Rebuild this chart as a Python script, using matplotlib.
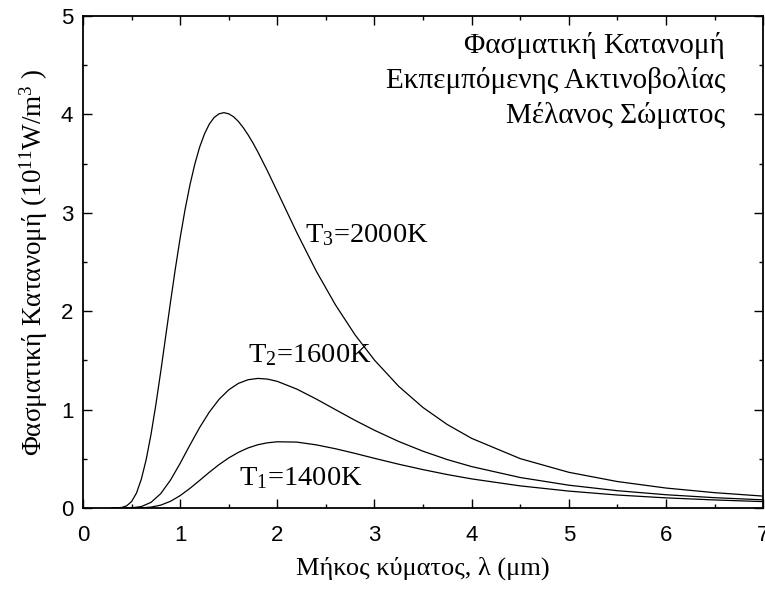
import matplotlib
matplotlib.use("Agg")
import matplotlib.pyplot as plt
from matplotlib.ticker import MultipleLocator

# wavelength samples (um) for the 2000 K curve (denser near the peak)
wavelength_t3 = [0.3, 0.4, 0.45, 0.5, 0.55, 0.6, 0.65, 0.7, 0.75, 0.8, 0.85, 0.9, 0.95,
                 1.0, 1.05, 1.1, 1.15, 1.2, 1.25, 1.3, 1.35, 1.4, 1.45, 1.5, 1.55,
                 1.6, 1.65, 1.7, 1.75, 1.8, 1.9, 2.0, 2.2, 2.4, 2.6, 2.8, 3.0, 3.25,
                 3.5, 3.75, 4.0, 4.5, 5.0, 5.5, 6.0, 6.5, 7.0]
t3_2000K = [0.0001, 0.0055, 0.0226, 0.066, 0.151, 0.292, 0.491, 0.748, 1.051, 1.386,
            1.737, 2.089, 2.429, 2.745, 3.031, 3.280, 3.492, 3.666, 3.801, 3.902,
            3.969, 4.006, 4.018, 4.006, 3.976, 3.928, 3.865, 3.791, 3.709, 3.618,
            3.423, 3.216, 2.800, 2.409, 2.062, 1.760, 1.503, 1.236, 1.021, 0.848,
            0.708, 0.502, 0.363, 0.269, 0.203, 0.156, 0.121]

# wavelength samples (um) for the 1600 K and 1400 K curves
wavelength = [0.3, 0.4, 0.5, 0.6, 0.7, 0.8, 0.9, 1.0, 1.1, 1.2, 1.3, 1.4, 1.5, 1.6,
              1.7, 1.8, 1.9, 2.0, 2.2, 2.4, 2.6, 2.8, 3.0, 3.25, 3.5, 3.75, 4.0,
              4.5, 5.0, 5.5, 6.0, 6.5, 7.0]
t2_1600K = [0.0, 0.0001, 0.0018, 0.0146, 0.0573, 0.146, 0.283, 0.454, 0.639, 0.817,
            0.975, 1.104, 1.201, 1.267, 1.304, 1.317, 1.310, 1.287, 1.209, 1.108,
            0.999, 0.891, 0.790, 0.676, 0.577, 0.492, 0.421, 0.310, 0.232, 0.176,
            0.135, 0.105, 0.083]
t1_1400K = [0.0, 0.0, 0.0001, 0.0017, 0.0091, 0.0294, 0.068, 0.126, 0.199, 0.280,
            0.363, 0.441, 0.509, 0.566, 0.611, 0.643, 0.663, 0.673, 0.670, 0.642,
            0.602, 0.555, 0.505, 0.445, 0.390, 0.340, 0.296, 0.225, 0.172, 0.132,
            0.103, 0.082, 0.065]

curve_labels = ["T$_{\\mathrm{3}}$=2000K", "T$_{\\mathrm{2}}$=1600K", "T$_{\\mathrm{1}}$=1400K"]
label_pos = [(2.28, 2.70), (1.70, 1.48), (1.61, 0.23)]
title_lines = ["Φασματική Κατανομή", "Εκπεμπόμενης Ακτινοβολίας", "Μέλανος Σώματος"]
xlabel = "Μήκος κύματος, λ (μm)"
ylabel = "Φασματική Κατανομή (10$^{\\mathrm{11}}$W/m$^{\\mathrm{3}}$ )"

plt.rcParams["mathtext.fontset"] = "custom"
plt.rcParams["mathtext.rm"] = "Liberation Serif"
plt.rcParams["mathtext.it"] = "Liberation Serif"

serif = "Liberation Serif"
sans = "Liberation Sans"

fig = plt.figure(figsize=(7.65, 5.89), dpi=100)
ax = fig.add_axes([0.1085, 0.1375, 0.889, 0.8353])

ax.plot(wavelength_t3, t3_2000K, color="black", lw=0.9)
ax.plot(wavelength, t2_1600K, color="black", lw=0.9)
ax.plot(wavelength, t1_1400K, color="black", lw=0.9)

ax.set_xlim(0, 7)
ax.set_ylim(0, 5)
ax.xaxis.set_major_locator(MultipleLocator(1))
ax.xaxis.set_minor_locator(MultipleLocator(0.5))
ax.yaxis.set_major_locator(MultipleLocator(1))
ax.yaxis.set_minor_locator(MultipleLocator(0.5))
ax.tick_params(which="both", direction="in", top=True, right=True, width=1.0)
ax.tick_params(which="major", length=6.5, labelsize=16)
ax.tick_params(axis="x", which="major", pad=12)
ax.tick_params(axis="y", which="major", pad=7)
ax.tick_params(which="minor", length=3.2)
for lab in ax.get_xticklabels() + ax.get_yticklabels():
    lab.set_fontfamily(sans)
for sp in ax.spines.values():
    sp.set_linewidth(1.3)

for txt, (x, y) in zip(curve_labels, label_pos):
    ax.text(x, y, txt, fontsize=20.5, family=serif, ha="left", va="baseline")

for i, line in enumerate(title_lines):
    ax.text(0.944, 0.941 - i * 0.0715, line, transform=ax.transAxes, fontsize=21,
            family=serif, ha="right", va="center")

ax.set_xlabel(xlabel, fontsize=19, family=serif, labelpad=8)
ax.set_ylabel(ylabel, fontsize=19.5, family=serif, labelpad=8)

fig.savefig("out.png", dpi=100)
